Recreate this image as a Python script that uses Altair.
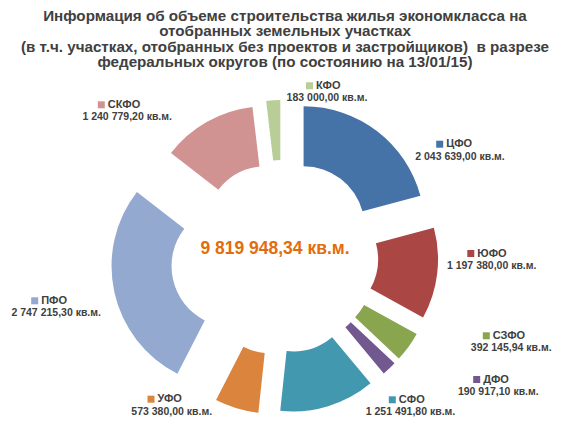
import math

import altair as alt
import pandas as pd

districts = ["ЦФО", "ЮФО", "СЗФО", "ДФО", "СФО", "УФО", "ПФО", "СКФО", "КФО"]
areas = [2043639.00, 1197380.00, 392145.94, 190917.10, 1251491.80,
         573380.00, 2747215.30, 1240779.20, 183000.00]
unit = "кв.м."

title_lines = [
    "Информация об объеме строительства жилья экономкласса на",
    "отобранных земельных участках",
    "(в т.ч. участках, отобранных без проектов и застройщиков)\u00a0 в разрезе",
    "федеральных округов (по состоянию на 13/01/15)",
]

# styling / layout
colors = {
    "ЦФО": "#4572A7", "ЮФО": "#AA4643", "СЗФО": "#89A54E", "ДФО": "#71588F",
    "СФО": "#4198AF", "УФО": "#DB843D", "ПФО": "#93A9CF", "СКФО": "#D19392",
    "КФО": "#B9CD96",
}
explode = {
    "ЦФО": 35, "ЮФО": 35, "СЗФО": 35, "ДФО": 35, "СФО": 37,
    "УФО": 39, "ПФО": 51, "СКФО": 32, "КФО": 34,
}
# label anchors: (key square x, value line centre x, value line y)
label_at = {
    "ЦФО": (431.7, 452.0, 148.7), "ЮФО": (462.8, 483.7, 258.0),
    "СЗФО": (478.3, 503.2, 340.3), "ДФО": (468.7, 490.3, 384.0),
    "СФО": (384.3, 402.5, 404.3), "УФО": (143.0, 163.7, 403.7),
    "ПФО": (26.7, 48.2, 305.3), "СКФО": (93.3, 119.2, 109.3),
    "КФО": (301.5, 319.0, 90.3),
}
CX, CY = 274.3, 247.0
FONT = "Liberation Sans"
TEXT = "#404040"


def ru(x):
    return f"{x:,.2f}".replace(",", " ").replace(".", ",")


df = pd.DataFrame({"district": districts, "area": areas})
df["idx"] = range(len(df))
total = df["area"].sum()
start = (df["area"].cumsum() - df["area"]) / total * 2 * math.pi
mid = start + df["area"] / total * math.pi
d = df["district"].map(explode)
df["cx"] = CX + d * mid.apply(math.sin)
df["cy"] = CY - d * mid.apply(math.cos)
df["color"] = df["district"].map(colors)
df["sx"] = df["district"].map(lambda k: label_at[k][0])
df["nx"] = df["sx"] + 6.5
df["vx"] = df["district"].map(lambda k: label_at[k][1])
df["vy"] = df["district"].map(lambda k: label_at[k][2])
df["ny"] = df["vy"] - 12.5
df["label"] = df["area"].map(ru) + " " + unit

base = alt.Chart(df)

arcs = base.mark_arc(innerRadius=61, outerRadius=121).encode(
    theta=alt.Theta("area:Q", stack=True),
    order=alt.Order("idx:Q"),
    x=alt.X("cx:Q", scale=None),
    y=alt.Y("cy:Q", scale=None),
    color=alt.Color("color:N", scale=None),
)

keys = base.mark_square(size=49, opacity=1).encode(
    x=alt.X("sx:Q", scale=None),
    y=alt.Y("ny:Q", scale=None),
    color=alt.Color("color:N", scale=None),
)

names = base.mark_text(
    align="left", baseline="middle", font=FONT, fontSize=11,
    fontWeight="bold", color=TEXT,
).encode(
    x=alt.X("nx:Q", scale=None),
    y=alt.Y("ny:Q", scale=None),
    text="district:N",
)

values = base.mark_text(
    align="center", baseline="middle", font=FONT, fontSize=10.5,
    fontWeight="bold", color=TEXT,
).encode(
    x=alt.X("vx:Q", scale=None),
    y=alt.Y("vy:Q", scale=None),
    text="label:N",
)

centre = alt.Chart(pd.DataFrame({"t": [ru(total) + " " + unit]})).mark_text(
    align="center", baseline="middle", font=FONT, fontSize=17.5,
    fontWeight="bold", color="#E46C0A",
).encode(x=alt.value(267), y=alt.value(241), text="t:N")

title = alt.Chart(pd.DataFrame({"t": ["\n".join(title_lines)]})).mark_text(
    align="center", baseline="middle", font=FONT, fontSize=15.2,
    fontWeight="bold", color=TEXT, lineBreak="\n", lineHeight=15.4,
).encode(x=alt.value(277), y=alt.value(8), text="t:N")

chart = (
    alt.layer(arcs, keys, names, values, centre, title)
    .properties(width=559, height=415, autosize="none", padding=0)
    .configure_view(stroke=None)
)

chart.save("out.html", embed_options={"renderer": "svg", "actions": False})
